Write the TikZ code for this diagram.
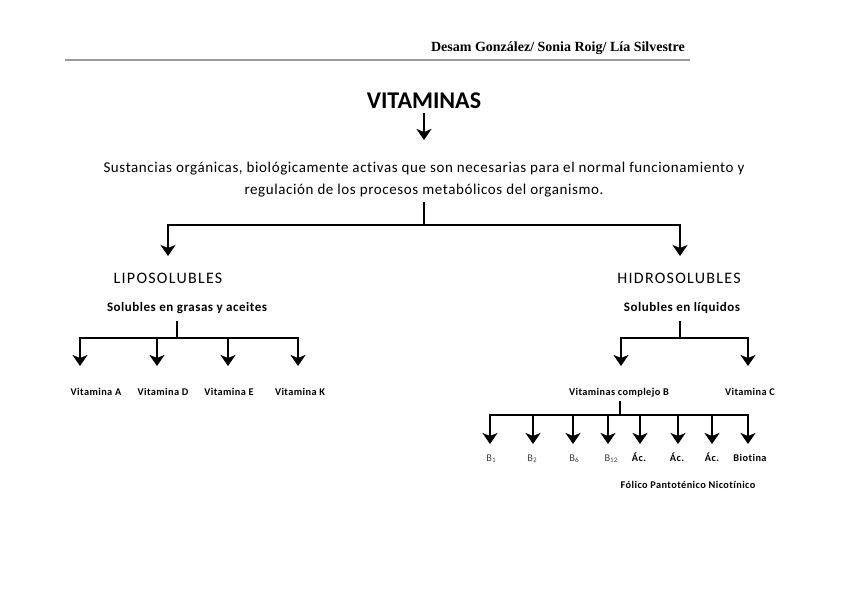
\documentclass[tikz,border=0pt]{standalone}
\usepackage{fontspec}
\setmainfont[Ligatures=NoCommon]{Carlito}
\newfontfamily\hdrfont{Liberation Serif}
\newfontfamily\spfont[LetterSpace=4,Ligatures=NoCommon]{Carlito}
\newfontfamily\wideFont[LetterSpace=8,Ligatures=NoCommon]{Carlito}
\usetikzlibrary{arrows.meta}
\tikzset{
  conn/.style={line width=2.8pt},
  arr/.style={line width=2.8pt,-{Stealth[length=11pt,width=15pt,inset=3pt]}},
  leaf/.style={font=\spfont\fontsize{10.3}{11}\selectfont\bfseries,inner sep=0pt,anchor=base},
  bsub/.style={font=\spfont\fontsize{10.3}{11}\selectfont,inner sep=0pt,anchor=base,text=black!75},
  lbl/.style={inner sep=0pt}
}
\newcommand{\bsb}[1]{\raisebox{-1.5pt}{\fontsize{7}{8}\selectfont #1}}
\begin{document}
\begin{tikzpicture}[x=1pt,y=-1pt]
\useasboundingbox (0,0) rectangle (848,599);
% header
\node[lbl,anchor=base east,font=\hdrfont\fontsize{14}{15}\selectfont\bfseries] (hdr) at (685,52) {Desam González/ Sonia Roig/ Lía Silvestre};
\coordinate (hl) at (65,60);
\coordinate (hr) at (690,60);
\draw[line width=2pt,gray!80] (hl) -- (hr);
% title
\node[lbl,anchor=base,font=\fontsize{24}{26}\selectfont\bfseries] (vit) at (424,109) {VITAMINAS};
\node[lbl,align=center,font=\spfont\fontsize{15}{22}\selectfont] (desc) at (424,180) {Sustancias orgánicas, biológicamente activas que son necesarias para el normal funcionamiento y\\regulación de los procesos metabólicos del organismo.};
\coordinate (a1) at (424,113);
\coordinate (a2) at (424,140);
\draw[arr] (a1) -- (a2);
% main split
\coordinate (d0) at (424,202);
\coordinate (d1) at (424,225);
\coordinate (dl) at (168,225);
\coordinate (dr) at (680,225);
\node[lbl,anchor=base,font=\wideFont\fontsize{16}{17}\selectfont] (lipo) at (168,283) {LIPOSOLUBLES};
\node[lbl,anchor=base,font=\wideFont\fontsize{16}{17}\selectfont] (hidro) at (679,283) {HIDROSOLUBLES};
\coordinate (la) at (168,256);
\coordinate (ra) at (680,256);
\draw[conn] (d0) -- (d1);
\draw[conn,line cap=rect] (dl) -- (dr);
\draw[arr] (dl) -- (la);
\draw[arr] (dr) -- (ra);
% sub labels
\node[lbl,anchor=base,font=\spfont\fontsize{13}{14}\selectfont\bfseries] (lsub) at (187,311) {Solubles en grasas y aceites};
\node[lbl,anchor=base,font=\spfont\fontsize{13}{14}\selectfont\bfseries] (rsub) at (682,311) {Solubles en líquidos};
% left tree
\coordinate (l0) at (177,321);
\coordinate (l1) at (177,338);
\draw[conn] (l0) -- (l1);
\coordinate (lh1) at (80,338);
\coordinate (lh2) at (157,338);
\coordinate (lh3) at (228,338);
\coordinate (lh4) at (298,338);
\draw[conn,line cap=rect] (lh1) -- (lh4);
\node[leaf] (va) at (96,395) {Vitamina A};
\node[leaf] (vd) at (163,395) {Vitamina D};
\node[leaf] (ve) at (229,395) {Vitamina E};
\node[leaf] (vk) at (300,395) {Vitamina K};
\coordinate (la1) at (80,366);
\coordinate (la2) at (157,366);
\coordinate (la3) at (228,366);
\coordinate (la4) at (298,366);
\draw[arr] (lh1) -- (la1);
\draw[arr] (lh2) -- (la2);
\draw[arr] (lh3) -- (la3);
\draw[arr] (lh4) -- (la4);
% right tree
\coordinate (r0) at (680,321);
\coordinate (r1) at (680,338);
\draw[conn] (r0) -- (r1);
\coordinate (rh1) at (621,338);
\coordinate (rh2) at (748,338);
\draw[conn,line cap=rect] (rh1) -- (rh2);
\coordinate (ra1) at (621,366);
\coordinate (ra2) at (748,366);
\draw[arr] (rh1) -- (ra1);
\draw[arr] (rh2) -- (ra2);
\node[leaf] (cb) at (619,395) {Vitaminas complejo B};
\node[leaf] (vc) at (750,395) {Vitamina C};
% complejo B tree
\coordinate (b0) at (620,401);
\coordinate (b1) at (620,415);
\draw[conn] (b0) -- (b1);
\coordinate (bh1) at (490,415);
\coordinate (bh2) at (533,415);
\coordinate (bh3) at (573,415);
\coordinate (bh4) at (608,415);
\coordinate (bh5) at (640,415);
\coordinate (bh6) at (678,415);
\coordinate (bh7) at (712,415);
\coordinate (bh8) at (748,415);
\draw[conn,line cap=rect] (bh1) -- (bh8);
\foreach \i/\x in {1/490,2/533,3/573,4/608,5/640,6/678,7/712,8/748}{
  \coordinate (ba\i) at (\x,444);
  \draw[arr] (bh\i) -- (ba\i);
}
\node[bsub] (n1) at (491,461) {B\bsb{1}};
\node[bsub] (n2) at (532,461) {B\bsb{2}};
\node[bsub] (n3) at (574,461) {B\bsb{6}};
\node[bsub] (n4) at (611,461) {B\bsb{12}};
\node[leaf] (n5) at (639,461) {Ác.};
\node[leaf] (n6) at (677,461) {Ác.};
\node[leaf] (n7) at (712,461) {Ác.};
\node[leaf] (n8) at (750,461) {Biotina};
\node[leaf] (fol) at (688,488) {Fólico Pantoténico Nicotínico};
\end{tikzpicture}
\end{document}
